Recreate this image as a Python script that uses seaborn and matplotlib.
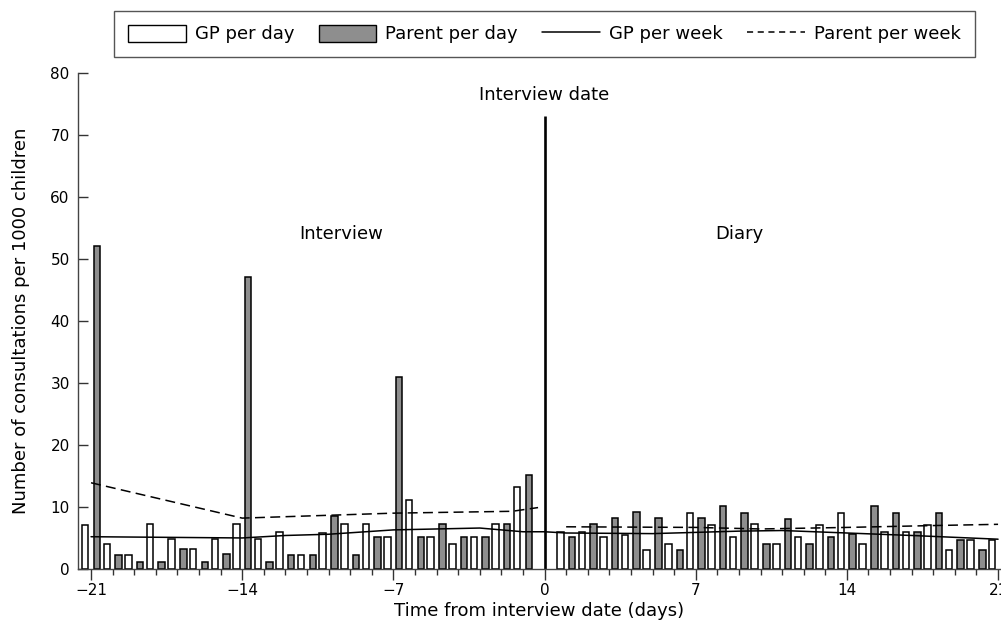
import numpy as np
import pandas as pd
import matplotlib
matplotlib.use("Agg")
import matplotlib.pyplot as plt
import seaborn as sns
from matplotlib.patches import Patch
from matplotlib.lines import Line2D
from matplotlib.ticker import MultipleLocator

# Data
days = list(range(-21, 0)) + list(range(1, 22))
gp_day = [7.1, 4.1, 2.3, 7.2, 4.8, 3.2, 4.9, 7.2, 4.9, 6.0, 2.3,
          5.8, 7.2, 7.3, 5.2, 11.2, 5.2, 4.1, 5.2, 7.2, 13.2,
          5.9, 5.9, 5.2, 5.4, 3.0, 4.1, 9.1, 7.1, 5.2, 7.2, 4.1,
          5.1, 7.1, 9.1, 4.0, 6.0, 6.0, 7.1, 3.0, 4.7, 4.7]
parent_day = [52.1, 2.3, 1.1, 1.2, 3.2, 1.1, 2.4, 47.1, 1.1, 2.3, 2.3,
              8.5, 2.2, 5.2, 31.0, 5.2, 7.2, 5.2, 5.2, 7.2, 15.2,
              5.2, 7.3, 8.2, 9.2, 8.2, 3.0, 8.2, 10.1, 9.1, 4.1, 8.1,
              4.0, 5.1, 5.7, 10.2, 9.1, 6.0, 9.0, 4.7, 3.0, np.nan]

gp_week_days = [-21, -14, -12, -10, -7, -3, -1, 0, 1, 5, 7, 9, 11, 14, 17, 21]
gp_week = [5.2, 5.0, 5.4, 5.6, 6.3, 6.6, 6.0, 6.0, 5.8, 5.7, 5.9, 6.1, 6.2, 5.8, 5.4, 4.8]
parent_week_int_days = [-21, -14, -7, -1.5, -0.3]
parent_week_int = [13.9, 8.2, 9.0, 9.3, 9.9]
parent_week_diary_days = [1, 7, 10, 14, 18, 21]
parent_week_diary = [6.8, 6.7, 6.45, 6.7, 7.0, 7.2]

sns.set_theme(style="ticks")
plt.rcParams['font.family'] = ['DejaVu Sans']
plt.rcParams['text.color'] = 'black'
plt.rcParams['axes.labelcolor'] = 'black'
plt.rcParams['xtick.labelcolor'] = 'black'
plt.rcParams['ytick.labelcolor'] = 'black'

df = pd.DataFrame({
    'day': days * 2,
    'rate': gp_day + parent_day,
    'source': ['GP'] * len(days) + ['Parent'] * len(days),
}).dropna()

fig = plt.figure(figsize=(10.01, 6.28), dpi=100)
ax = fig.add_axes([0.078, 0.094, 0.921, 0.790])

sns.barplot(data=df, x='day', y='rate', hue='source', native_scale=True,
            width=1.08, gap=0.44, palette={'GP': 'white', 'Parent': '#8e8e8e'},
            edgecolor='black', linewidth=1.1, errorbar=None, legend=False,
            saturation=1, ax=ax)

# weekly rates
sns.lineplot(x=gp_week_days, y=gp_week, color='black', linewidth=1.1, ax=ax)
sns.lineplot(x=parent_week_int_days, y=parent_week_int, color='black', linewidth=1.1, ax=ax)
sns.lineplot(x=parent_week_diary_days, y=parent_week_diary, color='black', linewidth=1.1, ax=ax)
for ln in ax.lines[1:3]:
    ln.set_dashes((6.5, 3.5))

ax.vlines(0, 0, 73, color='black', linewidth=1.9)

ax.text(0, 76.5, 'Interview date', ha='center', va='center', fontsize=13)
ax.text(-9.4, 54, 'Interview', ha='center', va='center', fontsize=13)
ax.text(9.0, 54, 'Diary', ha='center', va='center', fontsize=13)

ax.set_xlim(-21.6, 21.09)
ax.set_ylim(0, 80)
ax.set_xticks(range(-21, 22, 7))
ax.xaxis.set_minor_locator(MultipleLocator(1))
ax.set_yticks(range(0, 81, 10))
ax.tick_params(axis='x', which='major', direction='out', length=8, width=1, pad=2, labelsize=11, color='#333')
ax.tick_params(axis='x', which='minor', direction='out', length=4, width=1, color='#333')
ax.tick_params(axis='y', direction='in', length=7, width=1, pad=6, labelsize=11, color='#333')
sns.despine(ax=ax)
for s in ['left', 'bottom']:
    ax.spines[s].set_color('#444')
    ax.spines[s].set_linewidth(1)

ax.set_xlabel('Time from interview date (days)', fontsize=13, labelpad=3)
ax.set_ylabel('Number of consultations per 1000 children', fontsize=13, labelpad=15)

handles = [
    Patch(facecolor='white', edgecolor='black', linewidth=1.0),
    Patch(facecolor='#8e8e8e', edgecolor='black', linewidth=1.0),
    Line2D([], [], color='black', linewidth=1.1),
    Line2D([], [], color='black', linewidth=1.1, dashes=(4, 3)),
]
labels = ['GP per day', 'Parent per day', 'GP per week', 'Parent per week']
fig.legend(handles, labels, loc='center', bbox_to_anchor=(0.544, 0.946), ncol=4,
           fontsize=13, frameon=True, fancybox=False, edgecolor='#555',
           handlelength=3.2, handleheight=1.1, handletextpad=0.5,
           columnspacing=1.35, borderpad=0.75, framealpha=1)

fig.savefig('out.png', dpi=100)
